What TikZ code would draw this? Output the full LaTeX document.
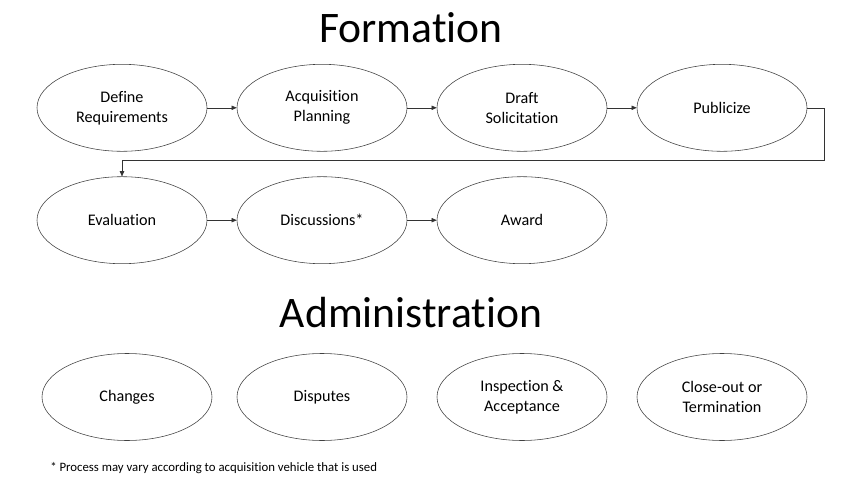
\documentclass[tikz,border=0pt]{standalone}
\usepackage{fontspec}
\setmainfont{Carlito}[Ligatures={NoCommon}]
\usepackage{tikz}
\usetikzlibrary{shapes.geometric, arrows.meta, positioning}
\tikzstyle{stage} = [ellipse, draw=black!75, thin, minimum width=4.25cm, minimum height=2.175cm, inner sep=0pt, align=center, font=\fontsize{11.5}{14.2}\selectfont]
\tikzstyle{arrow} = [draw=black!80, thin, -{Triangle[length=1.3mm, width=1.1mm]}]
\tikzstyle{heading} = [font=\fontsize{31}{34}\selectfont]

\begin{document}
\begin{tikzpicture}
    \useasboundingbox (0, 0) rectangle (21.5, 12.025);

    % Formation
    \node[heading] (formation) at (10.275, 11.325) {Formation};
    \node[stage] (define) at (3.05, 9.33) {Define\\Requirements};
    \node[stage] (plan) at (8.05, 9.33) {Acquisition\\Planning};
    \node[stage] (draft) at (13.05, 9.33) {Draft\\Solicitation};
    \node[stage] (publicize) at (18.05, 9.33) {Publicize};
    \node[stage] (eval) at (3.05, 6.52) {Evaluation};
    \node[stage] (disc) at (8.05, 6.52) {Discussions*};
    \node[stage] (award) at (13.05, 6.52) {Award};

    \draw[arrow] (define) -- (plan);
    \draw[arrow] (plan) -- (draft);
    \draw[arrow] (draft) -- (publicize);
    \draw[arrow] (publicize.east) -- ++(0.425, 0) |- (3.05, 8.025) -- (eval.north);
    \draw[arrow] (eval) -- (disc);
    \draw[arrow] (disc) -- (award);

    % Administration
    \node[heading] (admin) at (10.275, 4.2) {Administration};
    \node[stage] (changes) at (3.175, 2.1) {Changes};
    \node[stage] (disputes) at (8.05, 2.1) {Disputes};
    \node[stage] (inspect) at (13.05, 2.1) {Inspection \&\\Acceptance};
    \node[stage] (close) at (18.05, 2.1) {Close-out or\\Termination};

    % Footnote
    \node[anchor=west, font=\fontsize{9.1}{11}\selectfont, inner sep=0pt] (note) at (1.25, 0.33) {* Process may vary according to acquisition vehicle that is used};
\end{tikzpicture}
\end{document}
